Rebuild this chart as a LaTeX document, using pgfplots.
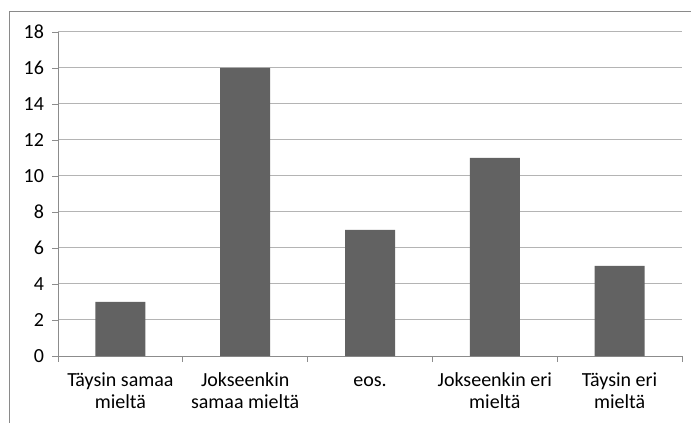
\documentclass[border=0pt]{standalone}
\usepackage{fontspec}
\setmainfont{Carlito}
\usepackage{pgfplots}
\pgfplotsset{compat=1.18}
\definecolor{barfill}{HTML}{626262}
\definecolor{gridgray}{HTML}{B4B4B4}
\definecolor{axisgray}{HTML}{8C8C8C}
\definecolor{framegray}{HTML}{8A8A8A}
\begin{document}
\begin{tikzpicture}
\useasboundingbox (0,0) rectangle (691bp,423bp);
% outer chart frame
\draw[framegray, line width=1.3bp] (9.5bp,-10bp) -- (9.5bp,411.5bp) -- (700bp,411.5bp);
\begin{axis}[
  at={(58bp,67bp)}, anchor=south west,
  scale only axis, width=624bp, height=324bp,
  xmin=-0.5, xmax=4.5, ymin=0, ymax=18,
  ytick={0,2,...,18},
  xtick={-0.5,0.5,...,4.5},
  xticklabels={{\strut Täysin samaa\\\strut mieltä},{\strut Jokseenkin\\\strut samaa mieltä},{\strut eos.\\\strut},{\strut Jokseenkin eri\\\strut mieltä},{\strut Täysin eri\\\strut mieltä},{}},
  xticklabel style={xshift=62.4bp, align=center, font=\fontsize{20bp}{22bp}\selectfont, anchor=north, yshift=-6bp},
  yticklabel style={font=\fontsize{20bp}{22bp}\selectfont, xshift=-5bp},
  /pgf/number format/assume math mode=true,
  tick align=outside,
  major tick length=5.5bp,
  tick style={axisgray, line width=0.8bp},
  axis x line*=bottom, axis y line*=left,
  axis line style={axisgray, line width=0.9bp, -},
  ymajorgrids,
  grid style={gridgray, line width=1bp},
  bar width=50bp,
]
\addplot[ybar, fill=barfill, draw=none] coordinates {(0,3) (1,16) (2,7) (3,11) (4,5)};
\end{axis}
\end{tikzpicture}
\end{document}
